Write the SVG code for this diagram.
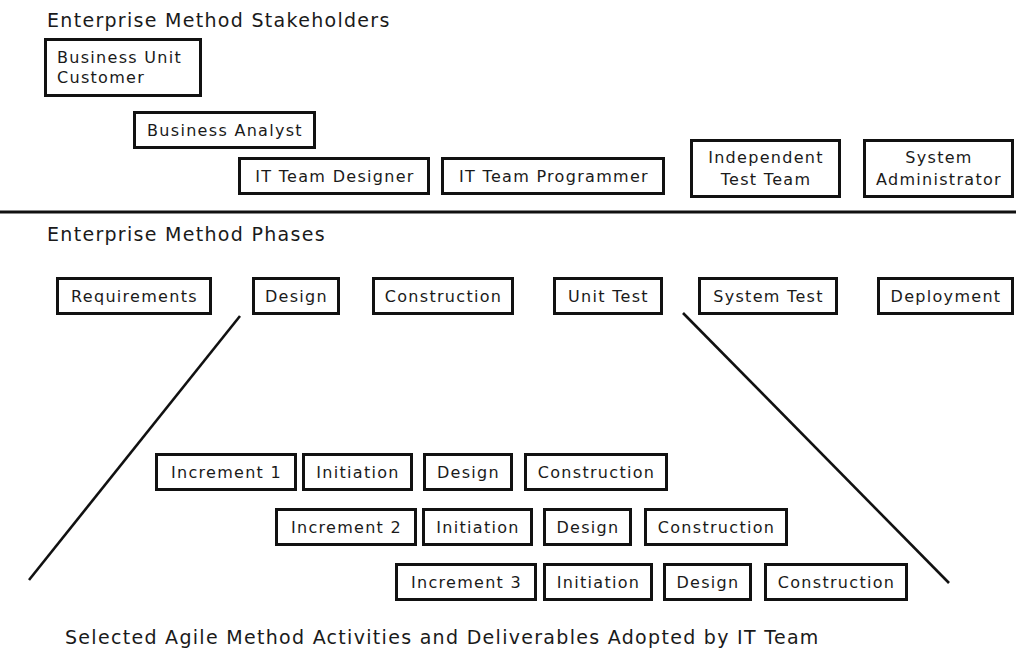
<svg xmlns="http://www.w3.org/2000/svg" width="1016" height="650" viewBox="0 0 1016 650">
<style>
.bg{fill:#ffffff}
.box{fill:#ffffff;stroke:#111111;stroke-width:3}
.t{font-family:"DejaVu Sans",Verdana,sans-serif;font-size:16px;letter-spacing:1.3px;fill:#1a1a1a;text-anchor:middle}
.tl{text-anchor:start}
.h{font-family:"DejaVu Sans",Verdana,sans-serif;font-size:19px;letter-spacing:1.3px;fill:#1a1a1a}
.ln{stroke:#111111;stroke-width:2.6;fill:none}
</style>
<rect class="bg" x="0" y="0" width="1016" height="650"/>
<text class="h" x="47" y="27">Enterprise Method Stakeholders</text>
<text class="h" x="47" y="241">Enterprise Method Phases</text>
<text class="h" x="65" y="644">Selected Agile Method Activities and Deliverables Adopted by IT Team</text>

<g id="connectors">
<line class="ln" x1="0" y1="212" x2="1016" y2="212" style="stroke-width:3"/>
<line class="ln" x1="240" y1="316" x2="29" y2="580"/>
<line class="ln" x1="683" y1="313" x2="949" y2="583"/>
</g>

<g id="stakeholder-business-unit-customer">
<rect class="box" x="45.5" y="39.5" width="155" height="56"/>
<text class="t tl" x="57" y="63">Business Unit</text>
<text class="t tl" x="57" y="83">Customer</text>
</g>
<g id="stakeholder-business-analyst">
<rect class="box" x="134.5" y="112.5" width="180" height="35"/>
<text class="t" x="225" y="136">Business Analyst</text>
</g>
<g id="stakeholder-it-team-designer">
<rect class="box" x="239.5" y="158.5" width="189" height="35"/>
<text class="t" x="335" y="182">IT Team Designer</text>
</g>
<g id="stakeholder-it-team-programmer">
<rect class="box" x="442.5" y="158.5" width="221" height="35"/>
<text class="t" x="554" y="182">IT Team Programmer</text>
</g>
<g id="stakeholder-independent-test-team">
<rect class="box" x="691.5" y="140.5" width="148" height="56"/>
<text class="t" x="766" y="163">Independent</text>
<text class="t" x="766" y="185">Test Team</text>
</g>
<g id="stakeholder-system-administrator">
<rect class="box" x="864.5" y="140.5" width="148" height="56"/>
<text class="t" x="939" y="163">System</text>
<text class="t" x="939" y="185">Administrator</text>
</g>

<g id="phase-requirements">
<rect class="box" x="57.5" y="278.5" width="153" height="35"/>
<text class="t" x="134.5" y="302">Requirements</text>
</g>
<g id="phase-design">
<rect class="box" x="253.5" y="278.5" width="85" height="35"/>
<text class="t" x="296.5" y="302">Design</text>
</g>
<g id="phase-construction">
<rect class="box" x="373.5" y="278.5" width="139" height="35"/>
<text class="t" x="443.5" y="302">Construction</text>
</g>
<g id="phase-unit-test">
<rect class="box" x="554.5" y="278.5" width="107" height="35"/>
<text class="t" x="608.5" y="302">Unit Test</text>
</g>
<g id="phase-system-test">
<rect class="box" x="699.5" y="278.5" width="137" height="35"/>
<text class="t" x="768.5" y="302">System Test</text>
</g>
<g id="phase-deployment">
<rect class="box" x="878.5" y="278.5" width="134" height="35"/>
<text class="t" x="946" y="302">Deployment</text>
</g>

<g id="increment-1">
<rect class="box" x="156.5" y="454.5" width="139" height="35"/>
<text class="t" x="226.5" y="478">Increment 1</text>
</g>
<g id="inc1-initiation">
<rect class="box" x="303.5" y="454.5" width="108" height="35"/>
<text class="t" x="358" y="478">Initiation</text>
</g>
<g id="inc1-design">
<rect class="box" x="424.5" y="454.5" width="87" height="35"/>
<text class="t" x="468.5" y="478">Design</text>
</g>
<g id="inc1-construction">
<rect class="box" x="525.5" y="454.5" width="141" height="35"/>
<text class="t" x="596.5" y="478">Construction</text>
</g>

<g id="increment-2">
<rect class="box" x="276.5" y="509.5" width="139" height="35"/>
<text class="t" x="346.5" y="533">Increment 2</text>
</g>
<g id="inc2-initiation">
<rect class="box" x="423.5" y="509.5" width="108" height="35"/>
<text class="t" x="478" y="533">Initiation</text>
</g>
<g id="inc2-design">
<rect class="box" x="544.5" y="509.5" width="86" height="35"/>
<text class="t" x="588" y="533">Design</text>
</g>
<g id="inc2-construction">
<rect class="box" x="645.5" y="509.5" width="141" height="35"/>
<text class="t" x="716.5" y="533">Construction</text>
</g>

<g id="increment-3">
<rect class="box" x="396.5" y="564.5" width="139" height="35"/>
<text class="t" x="466.5" y="588">Increment 3</text>
</g>
<g id="inc3-initiation">
<rect class="box" x="544.5" y="564.5" width="107" height="35"/>
<text class="t" x="598.5" y="588">Initiation</text>
</g>
<g id="inc3-design">
<rect class="box" x="664.5" y="564.5" width="86" height="35"/>
<text class="t" x="708" y="588">Design</text>
</g>
<g id="inc3-construction">
<rect class="box" x="765.5" y="564.5" width="141" height="35"/>
<text class="t" x="836.5" y="588">Construction</text>
</g>
</svg>
